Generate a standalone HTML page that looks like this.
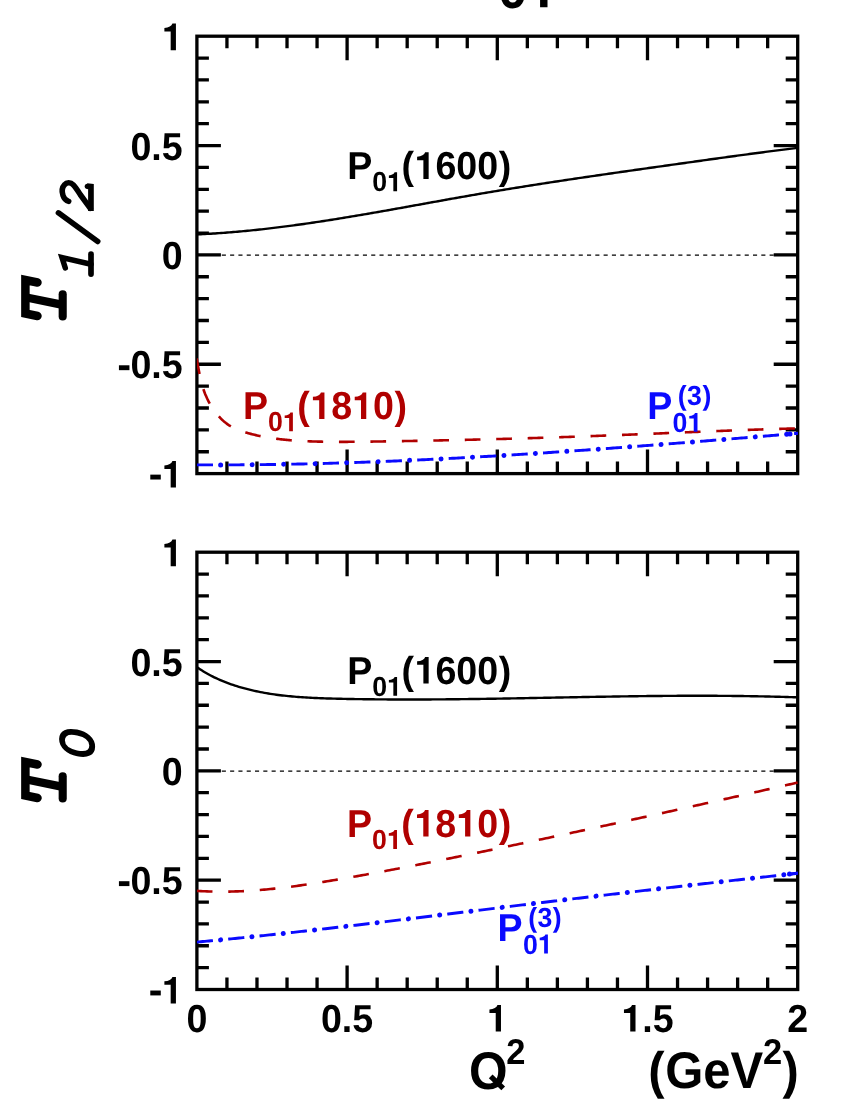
<!DOCTYPE html>
<html><head><meta charset="utf-8"><title>chart</title>
<style>html,body{margin:0;padding:0;background:#fff;}svg{display:block;will-change:transform;}text{font-kerning:none;text-rendering:geometricPrecision;}</style></head>
<body>
<svg width="850" height="1100" viewBox="0 0 850 1100" font-family='"Liberation Sans", sans-serif' font-weight="bold">
<rect width="850" height="1100" fill="#fff"/>
<text transform="translate(0,7.70) scale(1,1.036)" x="497.90" y="0" font-size="53" fill="#000">0</text>
<path d="M547.50,7.20 L547.50,-30.32 L542.57,-30.32 C541.45,-26.99 537.37,-24.60 531.23,-24.02 L531.23,-19.14 L540.08,-19.14 L540.08,7.20 Z" fill="#000"/>
<path d="M226.94,36.20v12.0M226.94,473.60v-12.0M196.90,58.07h12.0M797.70,58.07h-12.0M256.98,36.20v12.0M256.98,473.60v-12.0M196.90,79.94h12.0M797.70,79.94h-12.0M287.02,36.20v12.0M287.02,473.60v-12.0M196.90,101.81h12.0M797.70,101.81h-12.0M317.06,36.20v12.0M317.06,473.60v-12.0M196.90,123.68h12.0M797.70,123.68h-12.0M347.10,36.20v24.0M347.10,473.60v-24.0M196.90,145.55h24.0M797.70,145.55h-24.0M377.14,36.20v12.0M377.14,473.60v-12.0M196.90,167.42h12.0M797.70,167.42h-12.0M407.18,36.20v12.0M407.18,473.60v-12.0M196.90,189.29h12.0M797.70,189.29h-12.0M437.22,36.20v12.0M437.22,473.60v-12.0M196.90,211.16h12.0M797.70,211.16h-12.0M467.26,36.20v12.0M467.26,473.60v-12.0M196.90,233.03h12.0M797.70,233.03h-12.0M497.30,36.20v24.0M497.30,473.60v-24.0M196.90,254.90h24.0M797.70,254.90h-24.0M527.34,36.20v12.0M527.34,473.60v-12.0M196.90,276.77h12.0M797.70,276.77h-12.0M557.38,36.20v12.0M557.38,473.60v-12.0M196.90,298.64h12.0M797.70,298.64h-12.0M587.42,36.20v12.0M587.42,473.60v-12.0M196.90,320.51h12.0M797.70,320.51h-12.0M617.46,36.20v12.0M617.46,473.60v-12.0M196.90,342.38h12.0M797.70,342.38h-12.0M647.50,36.20v24.0M647.50,473.60v-24.0M196.90,364.25h24.0M797.70,364.25h-24.0M677.54,36.20v12.0M677.54,473.60v-12.0M196.90,386.12h12.0M797.70,386.12h-12.0M707.58,36.20v12.0M707.58,473.60v-12.0M196.90,407.99h12.0M797.70,407.99h-12.0M737.62,36.20v12.0M737.62,473.60v-12.0M196.90,429.86h12.0M797.70,429.86h-12.0M767.66,36.20v12.0M767.66,473.60v-12.0M196.90,451.73h12.0M797.70,451.73h-12.0" stroke="#000" stroke-width="3.3" fill="none"/>
<rect x="196.9" y="36.2" width="600.80" height="437.40" fill="none" stroke="#000" stroke-width="3.3"/>
<clipPath id="c0"><rect x="196.9" y="36.2" width="601.00" height="437.40"/></clipPath>
<g clip-path="url(#c0)">
<path d="M196.9,255.10H797.7" stroke="#000" stroke-width="1.3" stroke-dasharray="4.1 4.2" fill="none"/>
<path d="M196.79,234.43 L198.83,234.34 L200.86,234.24 L202.89,234.14 L204.93,234.04 L206.96,233.92 L208.99,233.81 L211.02,233.69 L213.05,233.56 L215.08,233.43 L217.11,233.30 L219.14,233.16 L221.16,233.02 L223.19,232.87 L225.22,232.72 L227.24,232.57 L229.27,232.41 L231.29,232.24 L233.32,232.07 L235.34,231.90 L237.37,231.73 L239.39,231.55 L241.41,231.36 L243.43,231.17 L245.46,230.98 L247.48,230.79 L249.50,230.59 L251.52,230.38 L253.54,230.18 L255.56,229.97 L257.57,229.75 L259.59,229.54 L261.61,229.32 L263.63,229.09 L265.64,228.86 L267.66,228.63 L269.68,228.40 L271.69,228.16 L273.71,227.92 L275.72,227.67 L277.74,227.43 L279.75,227.18 L281.76,226.92 L283.78,226.67 L285.79,226.41 L287.80,226.14 L289.81,225.88 L291.82,225.61 L293.84,225.34 L295.85,225.06 L297.86,224.79 L299.87,224.51 L301.88,224.23 L303.89,223.94 L305.90,223.65 L307.91,223.36 L309.91,223.07 L311.92,222.78 L313.93,222.48 L315.94,222.18 L317.94,221.88 L319.95,221.58 L321.96,221.27 L323.97,220.96 L325.97,220.65 L327.98,220.34 L329.98,220.02 L331.99,219.71 L333.99,219.39 L336.00,219.07 L338.00,218.75 L340.01,218.42 L342.01,218.10 L344.02,217.77 L346.02,217.44 L348.02,217.11 L350.03,216.78 L352.03,216.44 L354.03,216.11 L356.04,215.77 L358.04,215.43 L360.04,215.09 L362.04,214.75 L364.05,214.41 L366.05,214.06 L368.05,213.72 L370.05,213.37 L372.05,213.02 L374.06,212.67 L376.06,212.32 L378.06,211.97 L380.06,211.62 L382.06,211.27 L384.06,210.92 L386.06,210.56 L388.06,210.21 L390.06,209.85 L392.06,209.50 L394.06,209.14 L396.06,208.78 L398.06,208.42 L400.06,208.06 L402.06,207.70 L404.06,207.34 L406.06,206.98 L408.06,206.62 L410.06,206.26 L412.06,205.90 L414.06,205.54 L416.06,205.18 L418.06,204.82 L420.06,204.46 L422.06,204.09 L424.06,203.73 L426.06,203.37 L428.06,203.01 L430.06,202.65 L432.06,202.29 L434.06,201.92 L436.06,201.56 L438.06,201.20 L440.06,200.84 L442.06,200.48 L444.06,200.12 L446.06,199.76 L448.06,199.40 L450.07,199.05 L452.07,198.69 L454.07,198.33 L456.07,197.98 L458.07,197.62 L460.07,197.27 L462.07,196.91 L464.07,196.56 L466.07,196.21 L468.07,195.86 L470.08,195.51 L472.08,195.16 L474.08,194.81 L476.08,194.46 L478.08,194.11 L480.09,193.77 L482.09,193.43 L484.09,193.08 L486.09,192.74 L488.10,192.40 L490.10,192.07 L492.10,191.73 L494.11,191.39 L496.11,191.06 L498.11,190.72 L500.12,190.39 L502.12,190.06 L504.13,189.73 L506.13,189.40 L508.14,189.07 L510.14,188.74 L512.15,188.42 L514.15,188.09 L516.16,187.77 L518.16,187.45 L520.17,187.13 L522.17,186.81 L524.18,186.49 L526.18,186.17 L528.19,185.85 L530.20,185.53 L532.20,185.22 L534.21,184.90 L536.22,184.59 L538.22,184.28 L540.23,183.96 L542.24,183.65 L544.24,183.34 L546.25,183.03 L548.26,182.72 L550.26,182.42 L552.27,182.11 L554.28,181.80 L556.29,181.50 L558.30,181.19 L560.30,180.89 L562.31,180.58 L564.32,180.28 L566.33,179.98 L568.34,179.68 L570.35,179.38 L572.35,179.08 L574.36,178.78 L576.37,178.48 L578.38,178.18 L580.39,177.89 L582.40,177.59 L584.41,177.29 L586.42,177.00 L588.43,176.70 L590.44,176.41 L592.45,176.12 L594.45,175.82 L596.46,175.53 L598.47,175.24 L600.48,174.95 L602.49,174.65 L604.50,174.36 L606.51,174.07 L608.52,173.78 L610.53,173.49 L612.54,173.20 L614.56,172.92 L616.57,172.63 L618.58,172.34 L620.59,172.05 L622.60,171.76 L624.61,171.48 L626.62,171.19 L628.63,170.90 L630.64,170.62 L632.65,170.33 L634.66,170.05 L636.67,169.76 L638.68,169.48 L640.69,169.19 L642.71,168.91 L644.72,168.62 L646.73,168.34 L648.74,168.05 L650.75,167.77 L652.76,167.48 L654.77,167.20 L656.78,166.92 L658.79,166.63 L660.81,166.35 L662.82,166.07 L664.83,165.78 L666.84,165.50 L668.85,165.22 L670.86,164.93 L672.87,164.65 L674.89,164.37 L676.90,164.08 L678.91,163.80 L680.92,163.51 L682.93,163.23 L684.94,162.95 L686.96,162.66 L688.97,162.38 L690.98,162.10 L692.99,161.82 L695.00,161.53 L697.01,161.25 L699.03,160.97 L701.04,160.69 L703.05,160.41 L705.06,160.12 L707.07,159.84 L709.09,159.56 L711.10,159.28 L713.11,159.00 L715.12,158.72 L717.13,158.44 L719.15,158.17 L721.16,157.89 L723.17,157.61 L725.18,157.33 L727.20,157.06 L729.21,156.78 L731.22,156.51 L733.23,156.23 L735.25,155.96 L737.26,155.68 L739.27,155.41 L741.29,155.14 L743.30,154.87 L745.31,154.59 L747.33,154.32 L749.34,154.05 L751.35,153.79 L753.37,153.52 L755.38,153.25 L757.39,152.98 L759.41,152.72 L761.42,152.45 L763.44,152.19 L765.45,151.93 L767.47,151.67 L769.48,151.41 L771.49,151.15 L773.51,150.89 L775.52,150.63 L777.54,150.37 L779.55,150.12 L781.57,149.86 L783.58,149.61 L785.60,149.36 L787.62,149.10 L789.63,148.85 L791.65,148.60 L793.66,148.36 L795.68,148.11 L797.70,147.87" stroke="#000" stroke-width="2.4" fill="none"/>
<path d="M196.63,358.49 L196.88,359.79 L197.12,361.08 L197.36,362.37 L197.59,363.65 L197.82,364.93 L198.05,366.21 L198.29,367.49 L198.52,368.76 L198.75,370.03 L198.99,371.30 L199.24,372.57 L199.48,373.83 L199.74,375.09 L200.00,376.35 L200.27,377.61 L200.55,378.86 L200.84,380.11 L201.15,381.36 L201.46,382.60 L201.79,383.84 L202.14,385.08 L202.50,386.32 L202.88,387.56 L203.28,388.79 L203.69,390.02 L204.13,391.25 L204.58,392.47 L205.05,393.69 L205.55,394.90 L206.06,396.11 L206.59,397.31 L207.14,398.50 L207.70,399.69 L208.29,400.86 L208.90,402.03 L209.52,403.18 L210.16,404.33 L210.83,405.46 L211.51,406.58 L212.21,407.69 L212.93,408.79 L213.67,409.87 L214.42,410.93 L215.20,411.98 L215.99,413.01 L216.81,414.03 L217.64,415.03 L218.49,416.01 L219.36,416.97 L220.25,417.91 L221.16,418.83 L222.09,419.73 L223.04,420.60 L224.01,421.45 L224.99,422.27 L226.00,423.07 L227.03,423.84 L228.07,424.59 L229.14,425.30 L230.22,425.98 L231.33,426.63 L232.45,427.26 L233.60,427.85 L234.76,428.41 L235.94,428.94 L237.13,429.45 L238.33,429.94 L239.55,430.41 L240.77,430.85 L242.00,431.28 L243.24,431.69 L244.49,432.08 L245.74,432.47 L246.99,432.83 L248.24,433.19 L249.50,433.54 L250.76,433.88 L252.02,434.20 L253.29,434.51 L254.56,434.82 L255.82,435.11 L257.09,435.40 L258.37,435.68 L259.64,435.94 L260.91,436.20 L262.19,436.46 L263.46,436.70 L264.74,436.94 L266.02,437.17 L267.30,437.39 L268.58,437.60 L269.86,437.81 L271.14,438.01 L272.42,438.20 L273.70,438.39 L274.99,438.57 L276.27,438.74 L277.56,438.91 L278.84,439.07 L280.13,439.22 L281.42,439.37 L282.71,439.51 L283.99,439.65 L285.28,439.78 L286.57,439.91 L287.86,440.03 L289.16,440.14 L290.45,440.25 L291.74,440.35 L293.03,440.45 L294.33,440.55 L295.62,440.64 L296.91,440.72 L298.21,440.81 L299.50,440.88 L300.80,440.96 L302.09,441.03 L303.39,441.09 L304.69,441.15 L305.98,441.21 L307.28,441.26 L308.58,441.32 L309.87,441.36 L311.17,441.41 L312.47,441.45 L313.77,441.49 L315.06,441.53 L316.36,441.56 L317.66,441.59 L318.96,441.62 L320.26,441.65 L321.56,441.67 L322.85,441.69 L324.15,441.71 L325.45,441.73 L326.75,441.75 L328.05,441.77 L329.35,441.78 L330.64,441.79 L331.94,441.80 L333.24,441.81 L334.54,441.82 L335.84,441.83 L337.13,441.83 L338.43,441.84 L339.73,441.84 L341.03,441.84 L342.33,441.84 L343.63,441.84 L344.92,441.84 L346.22,441.83 L347.52,441.83 L348.82,441.82 L350.12,441.82 L351.41,441.81 L352.71,441.80 L354.01,441.79 L355.31,441.78 L356.61,441.77 L357.90,441.76 L359.20,441.74 L360.50,441.73 L361.80,441.71 L363.09,441.70 L364.39,441.68 L365.69,441.67 L366.99,441.65 L368.29,441.64 L369.58,441.62 L370.88,441.60 L372.18,441.58 L373.48,441.56 L374.78,441.54 L376.07,441.53 L377.37,441.51 L378.67,441.49 L379.97,441.47 L381.27,441.45 L382.56,441.43 L383.86,441.41 L385.16,441.39 L386.46,441.37 L387.75,441.35 L389.05,441.33 L390.35,441.31 L391.65,441.28 L392.95,441.26 L394.24,441.24 L395.54,441.22 L396.84,441.20 L398.14,441.18 L399.43,441.16 L400.73,441.13 L402.03,441.11 L403.33,441.09 L404.63,441.07 L405.92,441.05 L407.22,441.02 L408.52,441.00 L409.82,440.98 L411.12,440.95 L412.41,440.93 L413.71,440.91 L415.01,440.88 L416.31,440.86 L417.60,440.84 L418.90,440.81 L420.20,440.79 L421.50,440.76 L422.80,440.74 L424.09,440.71 L425.39,440.69 L426.69,440.66 L427.99,440.64 L429.28,440.61 L430.58,440.59 L431.88,440.56 L433.18,440.54 L434.47,440.51 L435.77,440.48 L437.07,440.46 L438.37,440.43 L439.67,440.40 L440.96,440.38 L442.26,440.35 L443.56,440.32 L444.86,440.30 L446.15,440.27 L447.45,440.24 L448.75,440.21 L450.05,440.19 L451.34,440.16 L452.64,440.13 L453.94,440.10 L455.24,440.07 L456.54,440.04 L457.83,440.02 L459.13,439.99 L460.43,439.96 L461.73,439.93 L463.02,439.90 L464.32,439.87 L465.62,439.84 L466.92,439.81 L468.21,439.78 L469.51,439.75 L470.81,439.72 L472.11,439.69 L473.40,439.66 L474.70,439.62 L476.00,439.59 L477.30,439.56 L478.60,439.53 L479.89,439.50 L481.19,439.47 L482.49,439.43 L483.79,439.40 L485.08,439.37 L486.38,439.34 L487.68,439.30 L488.98,439.27 L490.27,439.24 L491.57,439.21 L492.87,439.17 L494.17,439.14 L495.46,439.10 L496.76,439.07 L498.06,439.04 L499.36,439.00 L500.65,438.97 L501.95,438.93 L503.25,438.90 L504.55,438.86 L505.84,438.83 L507.14,438.79 L508.44,438.76 L509.74,438.72 L511.03,438.69 L512.33,438.65 L513.63,438.61 L514.93,438.58 L516.22,438.54 L517.52,438.50 L518.82,438.47 L520.12,438.43 L521.41,438.39 L522.71,438.35 L524.01,438.32 L525.31,438.28 L526.60,438.24 L527.90,438.20 L529.20,438.16 L530.49,438.13 L531.79,438.09 L533.09,438.05 L534.39,438.01 L535.68,437.97 L536.98,437.93 L538.28,437.89 L539.58,437.85 L540.87,437.81 L542.17,437.77 L543.47,437.73 L544.77,437.69 L546.06,437.65 L547.36,437.61 L548.66,437.57 L549.96,437.53 L551.25,437.48 L552.55,437.44 L553.85,437.40 L555.14,437.36 L556.44,437.32 L557.74,437.27 L559.04,437.23 L560.33,437.19 L561.63,437.15 L562.93,437.10 L564.23,437.06 L565.52,437.02 L566.82,436.97 L568.12,436.93 L569.41,436.88 L570.71,436.84 L572.01,436.79 L573.31,436.75 L574.60,436.71 L575.90,436.66 L577.20,436.62 L578.49,436.57 L579.79,436.52 L581.09,436.48 L582.39,436.43 L583.68,436.39 L584.98,436.34 L586.28,436.29 L587.57,436.25 L588.87,436.20 L590.17,436.15 L591.47,436.10 L592.76,436.06 L594.06,436.01 L595.36,435.96 L596.65,435.91 L597.95,435.87 L599.25,435.82 L600.55,435.77 L601.84,435.72 L603.14,435.67 L604.44,435.62 L605.73,435.57 L607.03,435.52 L608.33,435.47 L609.62,435.42 L610.92,435.37 L612.22,435.32 L613.52,435.27 L614.81,435.22 L616.11,435.17 L617.41,435.12 L618.70,435.07 L620.00,435.02 L621.30,434.97 L622.59,434.91 L623.89,434.86 L625.19,434.81 L626.49,434.76 L627.78,434.71 L629.08,434.65 L630.38,434.60 L631.67,434.55 L632.97,434.50 L634.27,434.45 L635.56,434.39 L636.86,434.34 L638.16,434.29 L639.45,434.23 L640.75,434.18 L642.05,434.13 L643.35,434.08 L644.64,434.02 L645.94,433.97 L647.24,433.92 L648.53,433.86 L649.83,433.81 L651.13,433.76 L652.42,433.70 L653.72,433.65 L655.02,433.60 L656.31,433.54 L657.61,433.49 L658.91,433.44 L660.21,433.38 L661.50,433.33 L662.80,433.27 L664.10,433.22 L665.39,433.17 L666.69,433.11 L667.99,433.06 L669.28,433.01 L670.58,432.95 L671.88,432.90 L673.17,432.85 L674.47,432.79 L675.77,432.74 L677.07,432.69 L678.36,432.63 L679.66,432.58 L680.96,432.52 L682.25,432.47 L683.55,432.42 L684.85,432.36 L686.14,432.31 L687.44,432.26 L688.74,432.21 L690.03,432.15 L691.33,432.10 L692.63,432.05 L693.93,431.99 L695.22,431.94 L696.52,431.89 L697.82,431.84 L699.11,431.78 L700.41,431.73 L701.71,431.68 L703.00,431.63 L704.30,431.57 L705.60,431.52 L706.89,431.47 L708.19,431.42 L709.49,431.37 L710.79,431.32 L712.08,431.26 L713.38,431.21 L714.68,431.16 L715.97,431.11 L717.27,431.06 L718.57,431.01 L719.86,430.96 L721.16,430.91 L722.46,430.86 L723.76,430.81 L725.05,430.76 L726.35,430.71 L727.65,430.66 L728.94,430.61 L730.24,430.56 L731.54,430.51 L732.84,430.46 L734.13,430.42 L735.43,430.37 L736.73,430.32 L738.02,430.27 L739.32,430.22 L740.62,430.18 L741.92,430.13 L743.21,430.08 L744.51,430.03 L745.81,429.99 L747.10,429.94 L748.40,429.90 L749.70,429.85 L751.00,429.80 L752.29,429.76 L753.59,429.71 L754.89,429.67 L756.18,429.62 L757.48,429.58 L758.78,429.53 L760.08,429.49 L761.37,429.45 L762.67,429.40 L763.97,429.36 L765.27,429.32 L766.56,429.28 L767.86,429.23 L769.16,429.19 L770.45,429.15 L771.75,429.11 L773.05,429.07 L774.35,429.03 L775.64,428.99 L776.94,428.95 L778.24,428.91 L779.54,428.87 L780.83,428.83 L782.13,428.79 L783.43,428.75 L784.73,428.71 L786.02,428.68 L787.32,428.64 L788.62,428.60 L789.92,428.56 L791.21,428.53 L792.51,428.49 L793.81,428.46 L795.11,428.42 L796.40,428.39 L797.70,428.35" stroke="#b00000" stroke-width="2.6" fill="none" stroke-dasharray="15.7 15.76"/>
<path d="M196.79,464.83 L198.80,464.85 L200.81,464.86 L202.83,464.86 L204.84,464.87 L206.86,464.88 L208.87,464.88 L210.89,464.89 L212.90,464.89 L214.91,464.89 L216.93,464.89 L218.94,464.89 L220.96,464.89 L222.97,464.89 L224.98,464.89 L227.00,464.88 L229.01,464.88 L231.03,464.87 L233.04,464.86 L235.05,464.85 L237.07,464.84 L239.08,464.83 L241.09,464.82 L243.11,464.81 L245.12,464.79 L247.13,464.78 L249.15,464.76 L251.16,464.74 L253.18,464.72 L255.19,464.70 L257.20,464.68 L259.22,464.66 L261.23,464.64 L263.24,464.61 L265.26,464.59 L267.27,464.56 L269.28,464.54 L271.29,464.51 L273.31,464.48 L275.32,464.45 L277.33,464.42 L279.35,464.39 L281.36,464.35 L283.37,464.32 L285.39,464.29 L287.40,464.25 L289.41,464.21 L291.42,464.17 L293.44,464.14 L295.45,464.10 L297.46,464.06 L299.48,464.01 L301.49,463.97 L303.50,463.93 L305.51,463.88 L307.53,463.84 L309.54,463.79 L311.55,463.74 L313.56,463.70 L315.58,463.65 L317.59,463.60 L319.60,463.54 L321.61,463.49 L323.62,463.44 L325.64,463.39 L327.65,463.33 L329.66,463.27 L331.67,463.22 L333.69,463.16 L335.70,463.10 L337.71,463.04 L339.72,462.98 L341.73,462.92 L343.75,462.86 L345.76,462.80 L347.77,462.73 L349.78,462.67 L351.79,462.60 L353.81,462.54 L355.82,462.47 L357.83,462.40 L359.84,462.33 L361.85,462.26 L363.86,462.19 L365.88,462.12 L367.89,462.05 L369.90,461.97 L371.91,461.90 L373.92,461.83 L375.93,461.75 L377.95,461.67 L379.96,461.60 L381.97,461.52 L383.98,461.44 L385.99,461.36 L388.00,461.28 L390.01,461.20 L392.02,461.12 L394.04,461.03 L396.05,460.95 L398.06,460.86 L400.07,460.78 L402.08,460.69 L404.09,460.61 L406.10,460.52 L408.11,460.43 L410.12,460.34 L412.13,460.25 L414.15,460.16 L416.16,460.07 L418.17,459.98 L420.18,459.88 L422.19,459.79 L424.20,459.70 L426.21,459.60 L428.22,459.51 L430.23,459.41 L432.24,459.31 L434.25,459.21 L436.26,459.11 L438.27,459.02 L440.28,458.92 L442.30,458.81 L444.31,458.71 L446.32,458.61 L448.33,458.51 L450.34,458.40 L452.35,458.30 L454.36,458.19 L456.37,458.09 L458.38,457.98 L460.39,457.88 L462.40,457.77 L464.41,457.66 L466.42,457.55 L468.43,457.44 L470.44,457.33 L472.45,457.22 L474.46,457.11 L476.47,457.00 L478.48,456.88 L480.49,456.77 L482.50,456.66 L484.51,456.54 L486.52,456.43 L488.53,456.31 L490.54,456.19 L492.55,456.08 L494.56,455.96 L496.57,455.84 L498.58,455.72 L500.59,455.60 L502.59,455.48 L504.60,455.36 L506.61,455.24 L508.62,455.12 L510.63,454.99 L512.64,454.87 L514.65,454.75 L516.66,454.62 L518.67,454.50 L520.68,454.37 L522.69,454.25 L524.70,454.12 L526.71,453.99 L528.72,453.87 L530.73,453.74 L532.73,453.61 L534.74,453.48 L536.75,453.35 L538.76,453.22 L540.77,453.09 L542.78,452.96 L544.79,452.83 L546.80,452.69 L548.81,452.56 L550.82,452.43 L552.82,452.29 L554.83,452.16 L556.84,452.03 L558.85,451.89 L560.86,451.75 L562.87,451.62 L564.88,451.48 L566.88,451.34 L568.89,451.21 L570.90,451.07 L572.91,450.93 L574.92,450.79 L576.93,450.65 L578.94,450.51 L580.94,450.37 L582.95,450.23 L584.96,450.09 L586.97,449.95 L588.98,449.80 L590.99,449.66 L592.99,449.52 L595.00,449.38 L597.01,449.23 L599.02,449.09 L601.03,448.94 L603.03,448.80 L605.04,448.65 L607.05,448.51 L609.06,448.36 L611.07,448.21 L613.08,448.07 L615.08,447.92 L617.09,447.77 L619.10,447.62 L621.11,447.47 L623.11,447.32 L625.12,447.17 L627.13,447.02 L629.14,446.87 L631.15,446.72 L633.15,446.57 L635.16,446.42 L637.17,446.27 L639.18,446.12 L641.18,445.97 L643.19,445.81 L645.20,445.66 L647.21,445.51 L649.21,445.35 L651.22,445.20 L653.23,445.05 L655.24,444.89 L657.24,444.74 L659.25,444.58 L661.26,444.43 L663.26,444.27 L665.27,444.12 L667.28,443.96 L669.29,443.80 L671.29,443.65 L673.30,443.49 L675.31,443.33 L677.31,443.17 L679.32,443.02 L681.33,442.86 L683.34,442.70 L685.34,442.54 L687.35,442.38 L689.36,442.22 L691.36,442.06 L693.37,441.90 L695.38,441.74 L697.38,441.58 L699.39,441.42 L701.40,441.26 L703.40,441.10 L705.41,440.94 L707.42,440.78 L709.42,440.62 L711.43,440.46 L713.44,440.29 L715.44,440.13 L717.45,439.97 L719.46,439.81 L721.46,439.64 L723.47,439.48 L725.48,439.32 L727.48,439.16 L729.49,438.99 L731.50,438.83 L733.50,438.66 L735.51,438.50 L737.51,438.34 L739.52,438.17 L741.53,438.01 L743.53,437.84 L745.54,437.68 L747.54,437.51 L749.55,437.35 L751.56,437.18 L753.56,437.02 L755.57,436.85 L757.58,436.69 L759.58,436.52 L761.59,436.36 L763.59,436.19 L765.60,436.02 L767.60,435.86 L769.61,435.69 L771.62,435.53 L773.62,435.36 L775.63,435.19 L777.63,435.03 L779.64,434.86 L781.64,434.69 L783.65,434.53 L785.66,434.36 L787.66,434.19 L789.67,434.03 L791.67,433.86 L793.68,433.69 L795.68,433.52 L797.69,433.36" stroke="#0a0aff" stroke-width="2.9" fill="none" stroke-dasharray="16.2 15.3"/><path d="M196.79,464.83 L198.80,464.85 L200.81,464.86 L202.83,464.86 L204.84,464.87 L206.86,464.88 L208.87,464.88 L210.89,464.89 L212.90,464.89 L214.91,464.89 L216.93,464.89 L218.94,464.89 L220.96,464.89 L222.97,464.89 L224.98,464.89 L227.00,464.88 L229.01,464.88 L231.03,464.87 L233.04,464.86 L235.05,464.85 L237.07,464.84 L239.08,464.83 L241.09,464.82 L243.11,464.81 L245.12,464.79 L247.13,464.78 L249.15,464.76 L251.16,464.74 L253.18,464.72 L255.19,464.70 L257.20,464.68 L259.22,464.66 L261.23,464.64 L263.24,464.61 L265.26,464.59 L267.27,464.56 L269.28,464.54 L271.29,464.51 L273.31,464.48 L275.32,464.45 L277.33,464.42 L279.35,464.39 L281.36,464.35 L283.37,464.32 L285.39,464.29 L287.40,464.25 L289.41,464.21 L291.42,464.17 L293.44,464.14 L295.45,464.10 L297.46,464.06 L299.48,464.01 L301.49,463.97 L303.50,463.93 L305.51,463.88 L307.53,463.84 L309.54,463.79 L311.55,463.74 L313.56,463.70 L315.58,463.65 L317.59,463.60 L319.60,463.54 L321.61,463.49 L323.62,463.44 L325.64,463.39 L327.65,463.33 L329.66,463.27 L331.67,463.22 L333.69,463.16 L335.70,463.10 L337.71,463.04 L339.72,462.98 L341.73,462.92 L343.75,462.86 L345.76,462.80 L347.77,462.73 L349.78,462.67 L351.79,462.60 L353.81,462.54 L355.82,462.47 L357.83,462.40 L359.84,462.33 L361.85,462.26 L363.86,462.19 L365.88,462.12 L367.89,462.05 L369.90,461.97 L371.91,461.90 L373.92,461.83 L375.93,461.75 L377.95,461.67 L379.96,461.60 L381.97,461.52 L383.98,461.44 L385.99,461.36 L388.00,461.28 L390.01,461.20 L392.02,461.12 L394.04,461.03 L396.05,460.95 L398.06,460.86 L400.07,460.78 L402.08,460.69 L404.09,460.61 L406.10,460.52 L408.11,460.43 L410.12,460.34 L412.13,460.25 L414.15,460.16 L416.16,460.07 L418.17,459.98 L420.18,459.88 L422.19,459.79 L424.20,459.70 L426.21,459.60 L428.22,459.51 L430.23,459.41 L432.24,459.31 L434.25,459.21 L436.26,459.11 L438.27,459.02 L440.28,458.92 L442.30,458.81 L444.31,458.71 L446.32,458.61 L448.33,458.51 L450.34,458.40 L452.35,458.30 L454.36,458.19 L456.37,458.09 L458.38,457.98 L460.39,457.88 L462.40,457.77 L464.41,457.66 L466.42,457.55 L468.43,457.44 L470.44,457.33 L472.45,457.22 L474.46,457.11 L476.47,457.00 L478.48,456.88 L480.49,456.77 L482.50,456.66 L484.51,456.54 L486.52,456.43 L488.53,456.31 L490.54,456.19 L492.55,456.08 L494.56,455.96 L496.57,455.84 L498.58,455.72 L500.59,455.60 L502.59,455.48 L504.60,455.36 L506.61,455.24 L508.62,455.12 L510.63,454.99 L512.64,454.87 L514.65,454.75 L516.66,454.62 L518.67,454.50 L520.68,454.37 L522.69,454.25 L524.70,454.12 L526.71,453.99 L528.72,453.87 L530.73,453.74 L532.73,453.61 L534.74,453.48 L536.75,453.35 L538.76,453.22 L540.77,453.09 L542.78,452.96 L544.79,452.83 L546.80,452.69 L548.81,452.56 L550.82,452.43 L552.82,452.29 L554.83,452.16 L556.84,452.03 L558.85,451.89 L560.86,451.75 L562.87,451.62 L564.88,451.48 L566.88,451.34 L568.89,451.21 L570.90,451.07 L572.91,450.93 L574.92,450.79 L576.93,450.65 L578.94,450.51 L580.94,450.37 L582.95,450.23 L584.96,450.09 L586.97,449.95 L588.98,449.80 L590.99,449.66 L592.99,449.52 L595.00,449.38 L597.01,449.23 L599.02,449.09 L601.03,448.94 L603.03,448.80 L605.04,448.65 L607.05,448.51 L609.06,448.36 L611.07,448.21 L613.08,448.07 L615.08,447.92 L617.09,447.77 L619.10,447.62 L621.11,447.47 L623.11,447.32 L625.12,447.17 L627.13,447.02 L629.14,446.87 L631.15,446.72 L633.15,446.57 L635.16,446.42 L637.17,446.27 L639.18,446.12 L641.18,445.97 L643.19,445.81 L645.20,445.66 L647.21,445.51 L649.21,445.35 L651.22,445.20 L653.23,445.05 L655.24,444.89 L657.24,444.74 L659.25,444.58 L661.26,444.43 L663.26,444.27 L665.27,444.12 L667.28,443.96 L669.29,443.80 L671.29,443.65 L673.30,443.49 L675.31,443.33 L677.31,443.17 L679.32,443.02 L681.33,442.86 L683.34,442.70 L685.34,442.54 L687.35,442.38 L689.36,442.22 L691.36,442.06 L693.37,441.90 L695.38,441.74 L697.38,441.58 L699.39,441.42 L701.40,441.26 L703.40,441.10 L705.41,440.94 L707.42,440.78 L709.42,440.62 L711.43,440.46 L713.44,440.29 L715.44,440.13 L717.45,439.97 L719.46,439.81 L721.46,439.64 L723.47,439.48 L725.48,439.32 L727.48,439.16 L729.49,438.99 L731.50,438.83 L733.50,438.66 L735.51,438.50 L737.51,438.34 L739.52,438.17 L741.53,438.01 L743.53,437.84 L745.54,437.68 L747.54,437.51 L749.55,437.35 L751.56,437.18 L753.56,437.02 L755.57,436.85 L757.58,436.69 L759.58,436.52 L761.59,436.36 L763.59,436.19 L765.60,436.02 L767.60,435.86 L769.61,435.69 L771.62,435.53 L773.62,435.36 L775.63,435.19 L777.63,435.03 L779.64,434.86 L781.64,434.69 L783.65,434.53 L785.66,434.36 L787.66,434.19 L789.67,434.03 L791.67,433.86 L793.68,433.69 L795.68,433.52 L797.69,433.36" stroke="#0a0aff" stroke-width="5" fill="none" stroke-linecap="round" stroke-dasharray="0.01 31.49" stroke-dashoffset="-23.85"/>
<circle cx="790.0" cy="433.9" r="2.5" fill="#0a0aff"/>
<path d="M794.4,433.55 L798.2,433.3" stroke="#0a0aff" stroke-width="2.9"/>
</g>
<text transform="translate(0,178.90) scale(1,1.036)" x="347.20" y="0" font-size="37.6" fill="#000">P</text><text transform="translate(0,191.20) scale(1,1.036)" x="372.20" y="0" font-size="26.7" fill="#000">0</text><path d="M397.08,191.20 L397.08,172.30 L394.60,172.30 C394.04,173.98 391.98,175.18 388.89,175.47 L388.89,177.93 L393.35,177.93 L393.35,191.20 Z" fill="#000"/><text transform="translate(0,178.90) scale(1,1.036)" x="401.43" y="0" font-size="37.6" fill="#000">(</text><path d="M428.65,178.90 L428.65,152.28 L425.15,152.28 C424.36,154.65 421.47,156.34 417.11,156.75 L417.11,160.21 L423.38,160.21 L423.38,178.90 Z" fill="#000"/><text transform="translate(0,178.90) scale(1,1.036)" x="435.42 456.32 477.23 498.81" y="0" font-size="37.6" fill="#000">600)</text>
<text transform="translate(0,419.00) scale(1,1.036)" x="243.00" y="0" font-size="37.6" fill="#b00000">P</text><text transform="translate(0,431.30) scale(1,1.036)" x="268.00" y="0" font-size="26.7" fill="#b00000">0</text><path d="M292.88,431.30 L292.88,412.40 L290.40,412.40 C289.84,414.08 287.78,415.28 284.69,415.57 L284.69,418.03 L289.15,418.03 L289.15,431.30 Z" fill="#b00000"/><text transform="translate(0,419.00) scale(1,1.036)" x="297.23" y="0" font-size="37.6" fill="#b00000">(</text><path d="M324.45,419.00 L324.45,392.38 L320.95,392.38 C320.16,394.75 317.27,396.44 312.91,396.85 L312.91,400.31 L319.18,400.31 L319.18,419.00 Z" fill="#b00000"/><text transform="translate(0,419.00) scale(1,1.036)" x="331.22" y="0" font-size="37.6" fill="#b00000">8</text><path d="M366.26,419.00 L366.26,392.38 L362.76,392.38 C361.97,394.75 359.08,396.44 354.72,396.85 L354.72,400.31 L361.00,400.31 L361.00,419.00 Z" fill="#b00000"/><text transform="translate(0,419.00) scale(1,1.036)" x="373.03 394.61" y="0" font-size="37.6" fill="#b00000">0)</text>
<text transform="translate(0,419.10) scale(1,1.036)" x="647.20" y="0" font-size="37.6" fill="#0a0aff">P</text><text transform="translate(0,431.80) scale(1,1.036)" x="672.60" y="0" font-size="26.7" fill="#0a0aff">0</text><path d="M697.48,431.80 L697.48,412.90 L695.00,412.90 C694.44,414.58 692.38,415.78 689.29,416.07 L689.29,418.53 L693.75,418.53 L693.75,431.80 Z" fill="#0a0aff"/><text transform="translate(0,405.10) scale(1,1.036)" x="677.80 687.09 702.42" y="0" font-size="26.7" fill="#0a0aff">(3)</text>
<path d="M175.93,50.20 L175.93,23.58 L172.44,23.58 C171.65,25.95 168.75,27.64 164.39,28.05 L164.39,31.51 L170.67,31.51 L170.67,50.20 Z" fill="#000"/><text transform="translate(0,159.55) scale(1,1.036)" x="130.44 151.34 161.79" y="0" font-size="37.6" fill="#000">0.5</text><text transform="translate(0,268.90) scale(1,1.036)" x="161.79" y="0" font-size="37.6" fill="#000">0</text><rect x="118.93" y="365.28" width="10.49" height="4.89" fill="#000"/><text transform="translate(0,378.25) scale(1,1.036)" x="130.44 151.34 161.79" y="0" font-size="37.6" fill="#000">0.5</text><rect x="150.29" y="474.63" width="10.49" height="4.89" fill="#000"/><path d="M175.93,487.60 L175.93,460.98 L172.44,460.98 C171.65,463.35 168.75,465.04 164.39,465.45 L164.39,468.91 L170.67,468.91 L170.67,487.60 Z" fill="#000"/>
<path d="M226.94,552.20v12.0M226.94,989.50v-12.0M196.90,574.07h12.0M797.70,574.07h-12.0M256.98,552.20v12.0M256.98,989.50v-12.0M196.90,595.93h12.0M797.70,595.93h-12.0M287.02,552.20v12.0M287.02,989.50v-12.0M196.90,617.80h12.0M797.70,617.80h-12.0M317.06,552.20v12.0M317.06,989.50v-12.0M196.90,639.66h12.0M797.70,639.66h-12.0M347.10,552.20v24.0M347.10,989.50v-24.0M196.90,661.53h24.0M797.70,661.53h-24.0M377.14,552.20v12.0M377.14,989.50v-12.0M196.90,683.39h12.0M797.70,683.39h-12.0M407.18,552.20v12.0M407.18,989.50v-12.0M196.90,705.25h12.0M797.70,705.25h-12.0M437.22,552.20v12.0M437.22,989.50v-12.0M196.90,727.12h12.0M797.70,727.12h-12.0M467.26,552.20v12.0M467.26,989.50v-12.0M196.90,748.99h12.0M797.70,748.99h-12.0M497.30,552.20v24.0M497.30,989.50v-24.0M196.90,770.85h24.0M797.70,770.85h-24.0M527.34,552.20v12.0M527.34,989.50v-12.0M196.90,792.72h12.0M797.70,792.72h-12.0M557.38,552.20v12.0M557.38,989.50v-12.0M196.90,814.58h12.0M797.70,814.58h-12.0M587.42,552.20v12.0M587.42,989.50v-12.0M196.90,836.45h12.0M797.70,836.45h-12.0M617.46,552.20v12.0M617.46,989.50v-12.0M196.90,858.31h12.0M797.70,858.31h-12.0M647.50,552.20v24.0M647.50,989.50v-24.0M196.90,880.17h24.0M797.70,880.17h-24.0M677.54,552.20v12.0M677.54,989.50v-12.0M196.90,902.04h12.0M797.70,902.04h-12.0M707.58,552.20v12.0M707.58,989.50v-12.0M196.90,923.90h12.0M797.70,923.90h-12.0M737.62,552.20v12.0M737.62,989.50v-12.0M196.90,945.77h12.0M797.70,945.77h-12.0M767.66,552.20v12.0M767.66,989.50v-12.0M196.90,967.63h12.0M797.70,967.63h-12.0" stroke="#000" stroke-width="3.3" fill="none"/>
<rect x="196.9" y="552.2" width="600.80" height="437.30" fill="none" stroke="#000" stroke-width="3.3"/>
<clipPath id="c1"><rect x="196.9" y="552.2" width="601.00" height="437.30"/></clipPath>
<g clip-path="url(#c1)">
<path d="M196.9,771.05H797.7" stroke="#000" stroke-width="1.3" stroke-dasharray="4.1 4.2" fill="none"/>
<path d="M196.52,666.93 L198.23,668.11 L199.96,669.25 L201.70,670.36 L203.46,671.44 L205.23,672.49 L207.01,673.51 L208.80,674.50 L210.61,675.47 L212.43,676.40 L214.25,677.30 L216.09,678.18 L217.94,679.03 L219.80,679.86 L221.67,680.66 L223.54,681.43 L225.43,682.18 L227.32,682.91 L229.22,683.61 L231.13,684.29 L233.05,684.94 L234.97,685.58 L236.90,686.19 L238.83,686.78 L240.77,687.35 L242.72,687.91 L244.66,688.44 L246.62,688.95 L248.57,689.45 L250.53,689.93 L252.50,690.39 L254.46,690.83 L256.43,691.26 L258.41,691.67 L260.38,692.06 L262.36,692.44 L264.35,692.81 L266.33,693.16 L268.32,693.49 L270.31,693.81 L272.31,694.12 L274.31,694.41 L276.30,694.69 L278.31,694.96 L280.31,695.21 L282.32,695.45 L284.33,695.68 L286.34,695.90 L288.35,696.11 L290.36,696.31 L292.38,696.50 L294.40,696.67 L296.42,696.84 L298.44,697.00 L300.47,697.15 L302.49,697.29 L304.52,697.42 L306.54,697.55 L308.57,697.66 L310.60,697.77 L312.63,697.88 L314.66,697.97 L316.70,698.06 L318.73,698.15 L320.77,698.23 L322.80,698.30 L324.84,698.37 L326.87,698.44 L328.91,698.50 L330.94,698.56 L332.98,698.61 L335.02,698.66 L337.05,698.71 L339.09,698.76 L341.13,698.80 L343.16,698.85 L345.20,698.89 L347.24,698.93 L349.27,698.97 L351.31,699.01 L353.34,699.04 L355.38,699.08 L357.41,699.11 L359.45,699.14 L361.48,699.17 L363.52,699.20 L365.55,699.23 L367.59,699.25 L369.62,699.27 L371.66,699.30 L373.69,699.32 L375.72,699.34 L377.76,699.36 L379.79,699.38 L381.83,699.39 L383.86,699.41 L385.89,699.42 L387.92,699.43 L389.96,699.44 L391.99,699.45 L394.02,699.46 L396.05,699.47 L398.09,699.48 L400.12,699.48 L402.15,699.48 L404.18,699.49 L406.21,699.49 L408.25,699.49 L410.28,699.49 L412.31,699.49 L414.34,699.48 L416.37,699.48 L418.40,699.48 L420.43,699.47 L422.46,699.46 L424.49,699.46 L426.52,699.45 L428.55,699.44 L430.59,699.43 L432.62,699.41 L434.65,699.40 L436.68,699.39 L438.70,699.37 L440.73,699.36 L442.76,699.34 L444.79,699.33 L446.82,699.31 L448.85,699.29 L450.88,699.27 L452.91,699.25 L454.94,699.23 L456.97,699.21 L459.00,699.19 L461.03,699.16 L463.05,699.14 L465.08,699.12 L467.11,699.09 L469.14,699.07 L471.17,699.04 L473.20,699.01 L475.22,698.99 L477.25,698.96 L479.28,698.93 L481.31,698.90 L483.34,698.87 L485.36,698.84 L487.39,698.81 L489.42,698.78 L491.45,698.75 L493.47,698.71 L495.50,698.68 L497.53,698.65 L499.56,698.62 L501.58,698.58 L503.61,698.55 L505.64,698.51 L507.67,698.48 L509.69,698.44 L511.72,698.41 L513.75,698.37 L515.77,698.33 L517.80,698.30 L519.83,698.26 L521.85,698.22 L523.88,698.19 L525.91,698.15 L527.93,698.11 L529.96,698.07 L531.99,698.04 L534.01,698.00 L536.04,697.96 L538.07,697.92 L540.09,697.88 L542.12,697.84 L544.15,697.80 L546.17,697.77 L548.20,697.73 L550.23,697.69 L552.25,697.65 L554.28,697.61 L556.30,697.57 L558.33,697.53 L560.36,697.49 L562.38,697.45 L564.41,697.41 L566.44,697.38 L568.46,697.34 L570.49,697.30 L572.51,697.26 L574.54,697.22 L576.57,697.18 L578.59,697.15 L580.62,697.11 L582.65,697.07 L584.67,697.03 L586.70,697.00 L588.72,696.96 L590.75,696.92 L592.78,696.89 L594.80,696.85 L596.83,696.82 L598.86,696.78 L600.88,696.74 L602.91,696.71 L604.93,696.68 L606.96,696.64 L608.99,696.61 L611.01,696.58 L613.04,696.54 L615.07,696.51 L617.09,696.48 L619.12,696.45 L621.15,696.42 L623.17,696.39 L625.20,696.36 L627.23,696.33 L629.25,696.30 L631.28,696.27 L633.31,696.24 L635.34,696.22 L637.36,696.19 L639.39,696.17 L641.42,696.14 L643.44,696.12 L645.47,696.09 L647.50,696.07 L649.53,696.05 L651.55,696.03 L653.58,696.01 L655.61,695.99 L657.64,695.97 L659.66,695.95 L661.69,695.93 L663.72,695.91 L665.75,695.90 L667.77,695.88 L669.80,695.87 L671.83,695.86 L673.86,695.84 L675.89,695.83 L677.91,695.82 L679.94,695.81 L681.97,695.80 L684.00,695.79 L686.03,695.79 L688.06,695.78 L690.09,695.78 L692.12,695.77 L694.14,695.77 L696.17,695.77 L698.20,695.77 L700.23,695.77 L702.26,695.77 L704.29,695.77 L706.32,695.78 L708.35,695.78 L710.38,695.79 L712.41,695.80 L714.44,695.81 L716.47,695.82 L718.50,695.83 L720.53,695.84 L722.56,695.85 L724.59,695.87 L726.62,695.88 L728.65,695.90 L730.68,695.92 L732.71,695.94 L734.75,695.96 L736.78,695.98 L738.81,696.01 L740.84,696.03 L742.87,696.06 L744.90,696.09 L746.94,696.12 L748.97,696.15 L751.00,696.18 L753.03,696.22 L755.06,696.25 L757.10,696.29 L759.13,696.33 L761.16,696.37 L763.20,696.41 L765.23,696.45 L767.26,696.50 L769.30,696.55 L771.33,696.59 L773.36,696.64 L775.40,696.70 L777.43,696.75 L779.47,696.80 L781.50,696.86 L783.54,696.92 L785.57,696.98 L787.61,697.04 L789.64,697.11 L791.68,697.17 L793.71,697.24 L795.75,697.31 L797.78,697.38" stroke="#000" stroke-width="2.4" fill="none"/>
<path d="M196.76,890.86 L198.82,890.99 L200.87,891.10 L202.92,891.21 L204.97,891.30 L207.02,891.39 L209.07,891.46 L211.12,891.52 L213.17,891.57 L215.22,891.61 L217.26,891.63 L219.31,891.65 L221.36,891.66 L223.40,891.65 L225.45,891.64 L227.49,891.61 L229.54,891.58 L231.58,891.54 L233.62,891.48 L235.66,891.42 L237.71,891.35 L239.75,891.27 L241.79,891.18 L243.83,891.08 L245.87,890.97 L247.91,890.86 L249.94,890.73 L251.98,890.60 L254.02,890.46 L256.05,890.31 L258.09,890.16 L260.13,889.99 L262.16,889.82 L264.20,889.64 L266.23,889.46 L268.26,889.26 L270.30,889.07 L272.33,888.86 L274.36,888.65 L276.39,888.43 L278.42,888.20 L280.46,887.97 L282.49,887.73 L284.52,887.49 L286.54,887.24 L288.57,886.99 L290.60,886.73 L292.63,886.46 L294.66,886.19 L296.68,885.92 L298.71,885.64 L300.74,885.35 L302.76,885.07 L304.79,884.77 L306.81,884.48 L308.84,884.17 L310.86,883.87 L312.89,883.56 L314.91,883.25 L316.93,882.93 L318.96,882.61 L320.98,882.29 L323.00,881.97 L325.02,881.64 L327.04,881.31 L329.06,880.98 L331.08,880.64 L333.10,880.31 L335.12,879.97 L337.14,879.62 L339.16,879.28 L341.18,878.94 L343.20,878.59 L345.21,878.24 L347.23,877.89 L349.25,877.54 L351.27,877.19 L353.28,876.84 L355.30,876.48 L357.31,876.12 L359.33,875.76 L361.35,875.40 L363.36,875.04 L365.38,874.68 L367.39,874.31 L369.40,873.95 L371.42,873.58 L373.43,873.21 L375.44,872.84 L377.46,872.47 L379.47,872.10 L381.48,871.72 L383.50,871.35 L385.51,870.97 L387.52,870.59 L389.53,870.21 L391.54,869.83 L393.55,869.45 L395.56,869.07 L397.57,868.68 L399.58,868.30 L401.59,867.91 L403.60,867.52 L405.61,867.14 L407.62,866.75 L409.63,866.36 L411.64,865.97 L413.65,865.57 L415.66,865.18 L417.67,864.78 L419.67,864.39 L421.68,863.99 L423.69,863.60 L425.70,863.20 L427.70,862.80 L429.71,862.40 L431.72,862.00 L433.73,861.60 L435.73,861.20 L437.74,860.79 L439.75,860.39 L441.75,859.99 L443.76,859.58 L445.76,859.18 L447.77,858.77 L449.78,858.36 L451.78,857.95 L453.79,857.55 L455.79,857.14 L457.80,856.73 L459.80,856.32 L461.81,855.91 L463.81,855.50 L465.82,855.09 L467.82,854.67 L469.83,854.26 L471.83,853.85 L473.83,853.44 L475.84,853.02 L477.84,852.61 L479.85,852.19 L481.85,851.78 L483.86,851.36 L485.86,850.95 L487.86,850.53 L489.87,850.12 L491.87,849.70 L493.87,849.28 L495.88,848.87 L497.88,848.45 L499.88,848.03 L501.89,847.61 L503.89,847.19 L505.89,846.78 L507.90,846.36 L509.90,845.94 L511.90,845.52 L513.91,845.10 L515.91,844.68 L517.91,844.25 L519.91,843.83 L521.92,843.41 L523.92,842.99 L525.92,842.57 L527.92,842.15 L529.93,841.72 L531.93,841.30 L533.93,840.88 L535.93,840.45 L537.93,840.03 L539.94,839.60 L541.94,839.18 L543.94,838.75 L545.94,838.33 L547.94,837.90 L549.94,837.47 L551.94,837.05 L553.95,836.62 L555.95,836.19 L557.95,835.77 L559.95,835.34 L561.95,834.91 L563.95,834.48 L565.95,834.05 L567.95,833.62 L569.95,833.20 L571.96,832.77 L573.96,832.34 L575.96,831.91 L577.96,831.48 L579.96,831.04 L581.96,830.61 L583.96,830.18 L585.96,829.75 L587.96,829.32 L589.96,828.89 L591.96,828.45 L593.96,828.02 L595.96,827.59 L597.96,827.15 L599.96,826.72 L601.96,826.29 L603.96,825.85 L605.96,825.42 L607.96,824.98 L609.96,824.55 L611.96,824.11 L613.96,823.68 L615.96,823.24 L617.96,822.80 L619.96,822.37 L621.95,821.93 L623.95,821.49 L625.95,821.06 L627.95,820.62 L629.95,820.18 L631.95,819.74 L633.95,819.30 L635.95,818.86 L637.95,818.43 L639.95,817.99 L641.94,817.55 L643.94,817.11 L645.94,816.67 L647.94,816.23 L649.94,815.79 L651.94,815.34 L653.93,814.90 L655.93,814.46 L657.93,814.02 L659.93,813.58 L661.93,813.14 L663.93,812.69 L665.92,812.25 L667.92,811.81 L669.92,811.37 L671.92,810.92 L673.92,810.48 L675.91,810.04 L677.91,809.59 L679.91,809.15 L681.91,808.70 L683.90,808.26 L685.90,807.81 L687.90,807.37 L689.90,806.92 L691.89,806.48 L693.89,806.03 L695.89,805.58 L697.88,805.14 L699.88,804.69 L701.88,804.24 L703.88,803.80 L705.87,803.35 L707.87,802.90 L709.87,802.45 L711.86,802.01 L713.86,801.56 L715.86,801.11 L717.85,800.66 L719.85,800.21 L721.85,799.76 L723.84,799.31 L725.84,798.86 L727.84,798.42 L729.83,797.97 L731.83,797.52 L733.83,797.07 L735.82,796.61 L737.82,796.16 L739.82,795.71 L741.81,795.26 L743.81,794.81 L745.80,794.36 L747.80,793.91 L749.80,793.46 L751.79,793.00 L753.79,792.55 L755.78,792.10 L757.78,791.65 L759.78,791.19 L761.77,790.74 L763.77,790.29 L765.76,789.83 L767.76,789.38 L769.76,788.93 L771.75,788.47 L773.75,788.02 L775.74,787.56 L777.74,787.11 L779.73,786.65 L781.73,786.20 L783.72,785.74 L785.72,785.29 L787.72,784.83 L789.71,784.38 L791.71,783.92 L793.70,783.47 L795.70,783.01 L797.69,782.55" stroke="#b00000" stroke-width="2.6" fill="none" stroke-dasharray="15.73 15.79"/>
<path d="M196.83,942.11 L198.85,941.93 L200.86,941.74 L202.88,941.56 L204.89,941.37 L206.90,941.18 L208.92,940.99 L210.93,940.81 L212.95,940.61 L214.96,940.42 L216.97,940.23 L218.99,940.04 L221.00,939.84 L223.01,939.65 L225.03,939.45 L227.04,939.26 L229.05,939.06 L231.06,938.86 L233.08,938.66 L235.09,938.46 L237.10,938.26 L239.12,938.06 L241.13,937.85 L243.14,937.65 L245.15,937.45 L247.16,937.24 L249.18,937.04 L251.19,936.83 L253.20,936.62 L255.21,936.41 L257.22,936.20 L259.24,935.99 L261.25,935.78 L263.26,935.57 L265.27,935.36 L267.28,935.15 L269.29,934.93 L271.31,934.72 L273.32,934.51 L275.33,934.29 L277.34,934.07 L279.35,933.86 L281.36,933.64 L283.37,933.42 L285.38,933.20 L287.39,932.98 L289.40,932.76 L291.41,932.54 L293.42,932.32 L295.43,932.10 L297.45,931.88 L299.46,931.65 L301.47,931.43 L303.48,931.21 L305.49,930.98 L307.50,930.76 L309.51,930.53 L311.52,930.30 L313.53,930.08 L315.54,929.85 L317.55,929.62 L319.56,929.39 L321.56,929.16 L323.57,928.93 L325.58,928.70 L327.59,928.47 L329.60,928.24 L331.61,928.01 L333.62,927.78 L335.63,927.55 L337.64,927.31 L339.65,927.08 L341.66,926.85 L343.67,926.61 L345.68,926.38 L347.69,926.14 L349.70,925.91 L351.70,925.67 L353.71,925.43 L355.72,925.20 L357.73,924.96 L359.74,924.72 L361.75,924.48 L363.76,924.25 L365.77,924.01 L367.77,923.77 L369.78,923.53 L371.79,923.29 L373.80,923.05 L375.81,922.81 L377.82,922.57 L379.83,922.33 L381.83,922.09 L383.84,921.84 L385.85,921.60 L387.86,921.36 L389.87,921.12 L391.88,920.88 L393.88,920.63 L395.89,920.39 L397.90,920.15 L399.91,919.90 L401.92,919.66 L403.92,919.42 L405.93,919.17 L407.94,918.93 L409.95,918.68 L411.96,918.44 L413.97,918.19 L415.97,917.95 L417.98,917.70 L419.99,917.46 L422.00,917.21 L424.01,916.97 L426.01,916.72 L428.02,916.48 L430.03,916.23 L432.04,915.99 L434.05,915.74 L436.05,915.49 L438.06,915.25 L440.07,915.00 L442.08,914.75 L444.08,914.51 L446.09,914.26 L448.10,914.01 L450.11,913.77 L452.12,913.52 L454.12,913.28 L456.13,913.03 L458.14,912.78 L460.15,912.54 L462.16,912.29 L464.16,912.04 L466.17,911.80 L468.18,911.55 L470.19,911.30 L472.20,911.06 L474.20,910.81 L476.21,910.56 L478.22,910.32 L480.23,910.07 L482.23,909.83 L484.24,909.58 L486.25,909.33 L488.26,909.09 L490.27,908.84 L492.27,908.60 L494.28,908.35 L496.29,908.11 L498.30,907.86 L500.31,907.62 L502.32,907.37 L504.32,907.13 L506.33,906.88 L508.34,906.64 L510.35,906.39 L512.36,906.15 L514.36,905.91 L516.37,905.66 L518.38,905.42 L520.39,905.17 L522.40,904.93 L524.41,904.69 L526.41,904.45 L528.42,904.20 L530.43,903.96 L532.44,903.72 L534.45,903.48 L536.46,903.23 L538.46,902.99 L540.47,902.75 L542.48,902.51 L544.49,902.27 L546.50,902.03 L548.51,901.79 L550.52,901.55 L552.52,901.31 L554.53,901.06 L556.54,900.82 L558.55,900.58 L560.56,900.34 L562.57,900.11 L564.58,899.87 L566.58,899.63 L568.59,899.39 L570.60,899.15 L572.61,898.91 L574.62,898.67 L576.63,898.43 L578.64,898.19 L580.65,897.96 L582.66,897.72 L584.66,897.48 L586.67,897.24 L588.68,897.01 L590.69,896.77 L592.70,896.53 L594.71,896.29 L596.72,896.06 L598.73,895.82 L600.74,895.58 L602.75,895.35 L604.75,895.11 L606.76,894.88 L608.77,894.64 L610.78,894.41 L612.79,894.17 L614.80,893.94 L616.81,893.70 L618.82,893.47 L620.83,893.23 L622.84,893.00 L624.85,892.76 L626.86,892.53 L628.87,892.29 L630.87,892.06 L632.88,891.83 L634.89,891.59 L636.90,891.36 L638.91,891.13 L640.92,890.90 L642.93,890.66 L644.94,890.43 L646.95,890.20 L648.96,889.97 L650.97,889.74 L652.98,889.50 L654.99,889.27 L657.00,889.04 L659.01,888.81 L661.02,888.58 L663.03,888.35 L665.04,888.12 L667.05,887.89 L669.06,887.66 L671.07,887.43 L673.08,887.20 L675.09,886.97 L677.10,886.74 L679.11,886.51 L681.12,886.28 L683.13,886.05 L685.14,885.82 L687.15,885.60 L689.16,885.37 L691.17,885.14 L693.18,884.91 L695.19,884.68 L697.20,884.46 L699.21,884.23 L701.22,884.00 L703.23,883.78 L705.24,883.55 L707.25,883.32 L709.26,883.10 L711.27,882.87 L713.28,882.64 L715.29,882.42 L717.30,882.19 L719.31,881.97 L721.32,881.74 L723.33,881.52 L725.34,881.29 L727.35,881.07 L729.36,880.84 L731.37,880.62 L733.38,880.40 L735.39,880.17 L737.40,879.95 L739.41,879.73 L741.42,879.50 L743.43,879.28 L745.44,879.06 L747.45,878.83 L749.46,878.61 L751.48,878.39 L753.49,878.17 L755.50,877.95 L757.51,877.72 L759.52,877.50 L761.53,877.28 L763.54,877.06 L765.55,876.84 L767.56,876.62 L769.57,876.40 L771.58,876.18 L773.59,875.96 L775.60,875.74 L777.62,875.52 L779.63,875.30 L781.64,875.08 L783.65,874.86 L785.66,874.64 L787.67,874.42 L789.68,874.21 L791.69,873.99 L793.70,873.77 L795.72,873.55 L797.73,873.33" stroke="#0a0aff" stroke-width="2.9" fill="none" stroke-dasharray="16.2 15.3"/><path d="M196.83,942.11 L198.85,941.93 L200.86,941.74 L202.88,941.56 L204.89,941.37 L206.90,941.18 L208.92,940.99 L210.93,940.81 L212.95,940.61 L214.96,940.42 L216.97,940.23 L218.99,940.04 L221.00,939.84 L223.01,939.65 L225.03,939.45 L227.04,939.26 L229.05,939.06 L231.06,938.86 L233.08,938.66 L235.09,938.46 L237.10,938.26 L239.12,938.06 L241.13,937.85 L243.14,937.65 L245.15,937.45 L247.16,937.24 L249.18,937.04 L251.19,936.83 L253.20,936.62 L255.21,936.41 L257.22,936.20 L259.24,935.99 L261.25,935.78 L263.26,935.57 L265.27,935.36 L267.28,935.15 L269.29,934.93 L271.31,934.72 L273.32,934.51 L275.33,934.29 L277.34,934.07 L279.35,933.86 L281.36,933.64 L283.37,933.42 L285.38,933.20 L287.39,932.98 L289.40,932.76 L291.41,932.54 L293.42,932.32 L295.43,932.10 L297.45,931.88 L299.46,931.65 L301.47,931.43 L303.48,931.21 L305.49,930.98 L307.50,930.76 L309.51,930.53 L311.52,930.30 L313.53,930.08 L315.54,929.85 L317.55,929.62 L319.56,929.39 L321.56,929.16 L323.57,928.93 L325.58,928.70 L327.59,928.47 L329.60,928.24 L331.61,928.01 L333.62,927.78 L335.63,927.55 L337.64,927.31 L339.65,927.08 L341.66,926.85 L343.67,926.61 L345.68,926.38 L347.69,926.14 L349.70,925.91 L351.70,925.67 L353.71,925.43 L355.72,925.20 L357.73,924.96 L359.74,924.72 L361.75,924.48 L363.76,924.25 L365.77,924.01 L367.77,923.77 L369.78,923.53 L371.79,923.29 L373.80,923.05 L375.81,922.81 L377.82,922.57 L379.83,922.33 L381.83,922.09 L383.84,921.84 L385.85,921.60 L387.86,921.36 L389.87,921.12 L391.88,920.88 L393.88,920.63 L395.89,920.39 L397.90,920.15 L399.91,919.90 L401.92,919.66 L403.92,919.42 L405.93,919.17 L407.94,918.93 L409.95,918.68 L411.96,918.44 L413.97,918.19 L415.97,917.95 L417.98,917.70 L419.99,917.46 L422.00,917.21 L424.01,916.97 L426.01,916.72 L428.02,916.48 L430.03,916.23 L432.04,915.99 L434.05,915.74 L436.05,915.49 L438.06,915.25 L440.07,915.00 L442.08,914.75 L444.08,914.51 L446.09,914.26 L448.10,914.01 L450.11,913.77 L452.12,913.52 L454.12,913.28 L456.13,913.03 L458.14,912.78 L460.15,912.54 L462.16,912.29 L464.16,912.04 L466.17,911.80 L468.18,911.55 L470.19,911.30 L472.20,911.06 L474.20,910.81 L476.21,910.56 L478.22,910.32 L480.23,910.07 L482.23,909.83 L484.24,909.58 L486.25,909.33 L488.26,909.09 L490.27,908.84 L492.27,908.60 L494.28,908.35 L496.29,908.11 L498.30,907.86 L500.31,907.62 L502.32,907.37 L504.32,907.13 L506.33,906.88 L508.34,906.64 L510.35,906.39 L512.36,906.15 L514.36,905.91 L516.37,905.66 L518.38,905.42 L520.39,905.17 L522.40,904.93 L524.41,904.69 L526.41,904.45 L528.42,904.20 L530.43,903.96 L532.44,903.72 L534.45,903.48 L536.46,903.23 L538.46,902.99 L540.47,902.75 L542.48,902.51 L544.49,902.27 L546.50,902.03 L548.51,901.79 L550.52,901.55 L552.52,901.31 L554.53,901.06 L556.54,900.82 L558.55,900.58 L560.56,900.34 L562.57,900.11 L564.58,899.87 L566.58,899.63 L568.59,899.39 L570.60,899.15 L572.61,898.91 L574.62,898.67 L576.63,898.43 L578.64,898.19 L580.65,897.96 L582.66,897.72 L584.66,897.48 L586.67,897.24 L588.68,897.01 L590.69,896.77 L592.70,896.53 L594.71,896.29 L596.72,896.06 L598.73,895.82 L600.74,895.58 L602.75,895.35 L604.75,895.11 L606.76,894.88 L608.77,894.64 L610.78,894.41 L612.79,894.17 L614.80,893.94 L616.81,893.70 L618.82,893.47 L620.83,893.23 L622.84,893.00 L624.85,892.76 L626.86,892.53 L628.87,892.29 L630.87,892.06 L632.88,891.83 L634.89,891.59 L636.90,891.36 L638.91,891.13 L640.92,890.90 L642.93,890.66 L644.94,890.43 L646.95,890.20 L648.96,889.97 L650.97,889.74 L652.98,889.50 L654.99,889.27 L657.00,889.04 L659.01,888.81 L661.02,888.58 L663.03,888.35 L665.04,888.12 L667.05,887.89 L669.06,887.66 L671.07,887.43 L673.08,887.20 L675.09,886.97 L677.10,886.74 L679.11,886.51 L681.12,886.28 L683.13,886.05 L685.14,885.82 L687.15,885.60 L689.16,885.37 L691.17,885.14 L693.18,884.91 L695.19,884.68 L697.20,884.46 L699.21,884.23 L701.22,884.00 L703.23,883.78 L705.24,883.55 L707.25,883.32 L709.26,883.10 L711.27,882.87 L713.28,882.64 L715.29,882.42 L717.30,882.19 L719.31,881.97 L721.32,881.74 L723.33,881.52 L725.34,881.29 L727.35,881.07 L729.36,880.84 L731.37,880.62 L733.38,880.40 L735.39,880.17 L737.40,879.95 L739.41,879.73 L741.42,879.50 L743.43,879.28 L745.44,879.06 L747.45,878.83 L749.46,878.61 L751.48,878.39 L753.49,878.17 L755.50,877.95 L757.51,877.72 L759.52,877.50 L761.53,877.28 L763.54,877.06 L765.55,876.84 L767.56,876.62 L769.57,876.40 L771.58,876.18 L773.59,875.96 L775.60,875.74 L777.62,875.52 L779.63,875.30 L781.64,875.08 L783.65,874.86 L785.66,874.64 L787.67,874.42 L789.68,874.21 L791.69,873.99 L793.70,873.77 L795.72,873.55 L797.73,873.33" stroke="#0a0aff" stroke-width="5" fill="none" stroke-linecap="round" stroke-dasharray="0.01 31.49" stroke-dashoffset="-23.85"/>
<circle cx="789.5" cy="874.1" r="2.5" fill="#0a0aff"/>
<path d="M789.5,874.1 L798.2,873.0" stroke="#0a0aff" stroke-width="2.9"/>
</g>
<text transform="translate(0,683.50) scale(1,1.036)" x="347.20" y="0" font-size="37.6" fill="#000">P</text><text transform="translate(0,695.80) scale(1,1.036)" x="372.20" y="0" font-size="26.7" fill="#000">0</text><path d="M397.08,695.80 L397.08,676.90 L394.60,676.90 C394.04,678.58 391.98,679.78 388.89,680.07 L388.89,682.53 L393.35,682.53 L393.35,695.80 Z" fill="#000"/><text transform="translate(0,683.50) scale(1,1.036)" x="401.43" y="0" font-size="37.6" fill="#000">(</text><path d="M428.65,683.50 L428.65,656.88 L425.15,656.88 C424.36,659.25 421.47,660.94 417.11,661.35 L417.11,664.81 L423.38,664.81 L423.38,683.50 Z" fill="#000"/><text transform="translate(0,683.50) scale(1,1.036)" x="435.42 456.32 477.23 498.81" y="0" font-size="37.6" fill="#000">600)</text>
<text transform="translate(0,836.60) scale(1,1.036)" x="347.10" y="0" font-size="37.6" fill="#b00000">P</text><text transform="translate(0,848.90) scale(1,1.036)" x="372.10" y="0" font-size="26.7" fill="#b00000">0</text><path d="M396.98,848.90 L396.98,830.00 L394.50,830.00 C393.94,831.68 391.88,832.88 388.79,833.17 L388.79,835.63 L393.25,835.63 L393.25,848.90 Z" fill="#b00000"/><text transform="translate(0,836.60) scale(1,1.036)" x="401.33" y="0" font-size="37.6" fill="#b00000">(</text><path d="M428.55,836.60 L428.55,809.98 L425.05,809.98 C424.26,812.35 421.37,814.04 417.01,814.45 L417.01,817.91 L423.28,817.91 L423.28,836.60 Z" fill="#b00000"/><text transform="translate(0,836.60) scale(1,1.036)" x="435.32" y="0" font-size="37.6" fill="#b00000">8</text><path d="M470.36,836.60 L470.36,809.98 L466.86,809.98 C466.07,812.35 463.18,814.04 458.82,814.45 L458.82,817.91 L465.10,817.91 L465.10,836.60 Z" fill="#b00000"/><text transform="translate(0,836.60) scale(1,1.036)" x="477.13 498.71" y="0" font-size="37.6" fill="#b00000">0)</text>
<text transform="translate(0,940.80) scale(1,1.036)" x="497.60" y="0" font-size="37.6" fill="#0a0aff">P</text><text transform="translate(0,953.50) scale(1,1.036)" x="523.00" y="0" font-size="26.7" fill="#0a0aff">0</text><path d="M547.88,953.50 L547.88,934.60 L545.40,934.60 C544.84,936.28 542.78,937.48 539.69,937.77 L539.69,940.23 L544.15,940.23 L544.15,953.50 Z" fill="#0a0aff"/><text transform="translate(0,926.80) scale(1,1.036)" x="528.20 537.49 552.82" y="0" font-size="26.7" fill="#0a0aff">(3)</text>
<path d="M175.93,566.20 L175.93,539.58 L172.44,539.58 C171.65,541.95 168.75,543.64 164.39,544.05 L164.39,547.51 L170.67,547.51 L170.67,566.20 Z" fill="#000"/><text transform="translate(0,675.53) scale(1,1.036)" x="130.44 151.34 161.79" y="0" font-size="37.6" fill="#000">0.5</text><text transform="translate(0,784.85) scale(1,1.036)" x="161.79" y="0" font-size="37.6" fill="#000">0</text><rect x="118.93" y="881.20" width="10.49" height="4.89" fill="#000"/><text transform="translate(0,894.17) scale(1,1.036)" x="130.44 151.34 161.79" y="0" font-size="37.6" fill="#000">0.5</text><rect x="150.29" y="990.53" width="10.49" height="4.89" fill="#000"/><path d="M175.93,1003.50 L175.93,976.88 L172.44,976.88 C171.65,979.25 168.75,980.94 164.39,981.35 L164.39,984.81 L170.67,984.81 L170.67,1003.50 Z" fill="#000"/>
<text transform="translate(0,1031.60) scale(1,1.036)" x="186.45" y="0" font-size="37.6" fill="#000">0</text>
<text transform="translate(0,1031.60) scale(1,1.036)" x="320.97 341.87 352.33" y="0" font-size="37.6" fill="#000">0.5</text>
<path d="M500.98,1031.60 L500.98,1004.98 L497.49,1004.98 C496.70,1007.35 493.80,1009.04 489.44,1009.45 L489.44,1012.91 L495.72,1012.91 L495.72,1031.60 Z" fill="#000"/>
<path d="M635.51,1031.60 L635.51,1004.98 L632.01,1004.98 C631.22,1007.35 628.32,1009.04 623.96,1009.45 L623.96,1012.91 L630.24,1012.91 L630.24,1031.60 Z" fill="#000"/><text transform="translate(0,1031.60) scale(1,1.036)" x="642.27 652.73" y="0" font-size="37.6" fill="#000">.5</text>
<text transform="translate(0,1031.60) scale(1,1.036)" x="787.25" y="0" font-size="37.6" fill="#000">2</text>
<text transform="translate(0,1088.70) scale(1,1.066)" x="469.00" y="0" font-size="49.6" fill="#000">O</text>
<path d="M490.7,1076.3 L503.2,1088.4" stroke="#000" stroke-width="5.3" fill="none"/>
<text transform="translate(0,1064.10) scale(1,1.036)" x="506.22" y="0" font-size="34.5" fill="#000">2</text>
<text transform="translate(0,1088.20) scale(1,1.05)" x="648.16 665.22 703.34 730.58" y="0" font-size="49.0" fill="#000">(GeV</text>
<text transform="translate(0,1064.40) scale(1,1.036)" x="762.97" y="0" font-size="34.5" fill="#000">2</text>
<text transform="translate(0,1088.20) scale(1,1.05)" x="782.43" y="0" font-size="49.0" fill="#000">)</text>
<g fill="none" stroke="#000" stroke-linejoin="round">
<path d="M37.5,282.50 L25.4,280.00 L25.4,313.50 L37.5,316.00" stroke-width="8.5" stroke-linecap="round" stroke-linejoin="miter"/><path d="M25.4,297.20 L62.7,304.90" stroke-width="8.3" stroke-linecap="butt"/><path d="M62.7,294.20 L62.7,316.50" stroke-width="8.1" stroke-linecap="round"/>
<path d="M37.5,764.50 L25.4,762.00 L25.4,795.50 L37.5,798.00" stroke-width="8.5" stroke-linecap="round" stroke-linejoin="miter"/><path d="M25.4,779.20 L62.7,786.90" stroke-width="8.3" stroke-linecap="butt"/><path d="M62.7,776.20 L62.7,798.50" stroke-width="8.1" stroke-linecap="round"/>
<path d="M65.3,268.0 L62.0,257.6 L91.0,264.3" stroke-width="5.5" stroke-linecap="round" stroke-linejoin="miter"/>
<path d="M91.0,254.2 L91.0,274.1" stroke-width="5.7" stroke-linecap="round"/>
<path d="M58.4,212.8 L97.75,241.5" stroke-width="5.5" stroke-linecap="round"/>
<path d="M68.7,201.35 C65.8,200.6 63.9,198.3 63.0,195.5 C61.6,191.4 62.3,187.2 64.6,184.7 C66.5,182.3 70.6,182.0 73.3,184.9 C76.0,187.8 78.0,191.0 80.2,194.5 L90.3,208.3" stroke-width="5.6" stroke-linecap="round"/>
<path d="M90.95,210.9 L90.95,186.6 L87.0,186.2" stroke-width="5.7" stroke-linecap="butt" stroke-linejoin="miter"/>
<circle cx="87.3" cy="186.3" r="2.6" fill="#000" stroke="none"/>
<path transform="translate(77.1,742.9) skewY(11.9)" stroke-width="5.8" d="M-15.1,0 C-15.1,-6.45 -9.36,-10.4 0,-10.4 C9.36,-10.4 15.1,-6.45 15.1,0 C15.1,6.45 9.36,10.4 0,10.4 C-9.36,10.4 -15.1,6.45 -15.1,0 Z"/>
</g>
</svg>
</body></html>
